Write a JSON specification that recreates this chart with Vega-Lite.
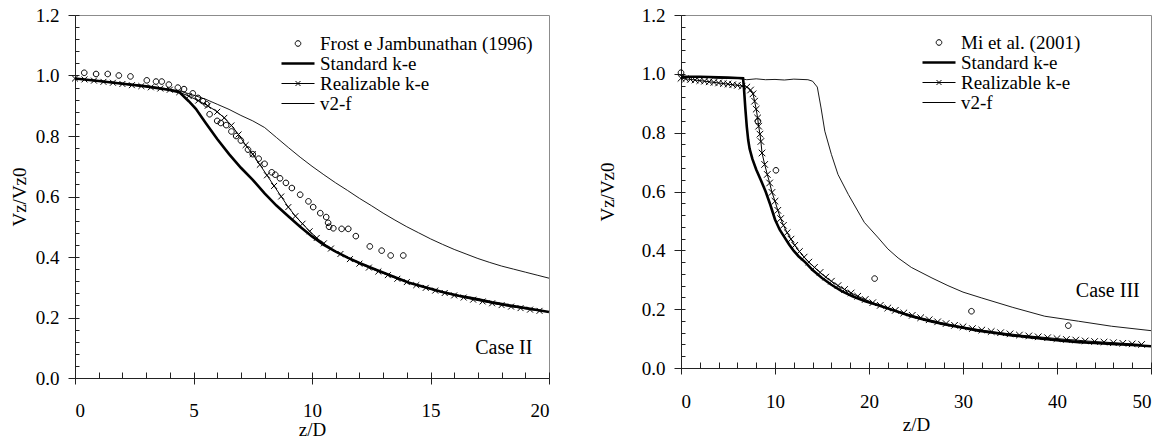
{
  "$schema": "https://vega.github.io/schema/vega-lite/v6.json",
  "background": "white",
  "padding": {"left": 9, "top": 5, "right": 6, "bottom": 0},
  "datasets": {
    "left": [
      {"s": "Standard k-e", "x": 0, "y": 0.99}, {"s": "Standard k-e", "x": 1, "y": 0.982}, {"s": "Standard k-e", "x": 2, "y": 0.973}, {"s": "Standard k-e", "x": 3, "y": 0.964}, {"s": "Standard k-e", "x": 4, "y": 0.952}, {"s": "Standard k-e", "x": 4.4, "y": 0.945}, {"s": "Standard k-e", "x": 4.8, "y": 0.915}, {"s": "Standard k-e", "x": 5.1, "y": 0.89}, {"s": "Standard k-e", "x": 5.5, "y": 0.845}, {"s": "Standard k-e", "x": 6, "y": 0.79}, {"s": "Standard k-e", "x": 6.5, "y": 0.74}, {"s": "Standard k-e", "x": 7, "y": 0.695}, {"s": "Standard k-e", "x": 7.5, "y": 0.655}, {"s": "Standard k-e", "x": 8, "y": 0.61}, {"s": "Standard k-e", "x": 8.5, "y": 0.57}, {"s": "Standard k-e", "x": 9, "y": 0.535}, {"s": "Standard k-e", "x": 9.5, "y": 0.5}, {"s": "Standard k-e", "x": 10, "y": 0.468}, {"s": "Standard k-e", "x": 10.5, "y": 0.44}, {"s": "Standard k-e", "x": 11, "y": 0.418}, {"s": "Standard k-e", "x": 11.5, "y": 0.398}, {"s": "Standard k-e", "x": 12, "y": 0.38}, {"s": "Standard k-e", "x": 12.7, "y": 0.358}, {"s": "Standard k-e", "x": 13.5, "y": 0.333}, {"s": "Standard k-e", "x": 14.1, "y": 0.315}, {"s": "Standard k-e", "x": 15, "y": 0.295}, {"s": "Standard k-e", "x": 15.5, "y": 0.284}, {"s": "Standard k-e", "x": 16.2, "y": 0.272}, {"s": "Standard k-e", "x": 16.9, "y": 0.262}, {"s": "Standard k-e", "x": 17.6, "y": 0.25}, {"s": "Standard k-e", "x": 18.3, "y": 0.24}, {"s": "Standard k-e", "x": 19.2, "y": 0.229}, {"s": "Standard k-e", "x": 20, "y": 0.218},
      {"s": "Realizable k-e", "x": 0, "y": 0.99}, {"s": "Realizable k-e", "x": 0.4, "y": 0.987}, {"s": "Realizable k-e", "x": 0.8, "y": 0.983}, {"s": "Realizable k-e", "x": 1.2, "y": 0.979}, {"s": "Realizable k-e", "x": 1.6, "y": 0.976}, {"s": "Realizable k-e", "x": 2.0, "y": 0.972}, {"s": "Realizable k-e", "x": 2.4, "y": 0.968}, {"s": "Realizable k-e", "x": 2.8, "y": 0.965}, {"s": "Realizable k-e", "x": 3.2, "y": 0.961}, {"s": "Realizable k-e", "x": 3.6, "y": 0.957}, {"s": "Realizable k-e", "x": 4.0, "y": 0.953}, {"s": "Realizable k-e", "x": 4.4, "y": 0.945}, {"s": "Realizable k-e", "x": 4.8, "y": 0.932}, {"s": "Realizable k-e", "x": 5.2, "y": 0.917}, {"s": "Realizable k-e", "x": 5.6, "y": 0.9}, {"s": "Realizable k-e", "x": 6.0, "y": 0.88}, {"s": "Realizable k-e", "x": 6.3, "y": 0.86}, {"s": "Realizable k-e", "x": 6.6, "y": 0.835}, {"s": "Realizable k-e", "x": 6.9, "y": 0.805}, {"s": "Realizable k-e", "x": 7.2, "y": 0.77}, {"s": "Realizable k-e", "x": 7.5, "y": 0.74}, {"s": "Realizable k-e", "x": 7.8, "y": 0.705}, {"s": "Realizable k-e", "x": 8.1, "y": 0.67}, {"s": "Realizable k-e", "x": 8.4, "y": 0.635}, {"s": "Realizable k-e", "x": 8.7, "y": 0.6}, {"s": "Realizable k-e", "x": 9.0, "y": 0.565}, {"s": "Realizable k-e", "x": 9.3, "y": 0.535}, {"s": "Realizable k-e", "x": 9.6, "y": 0.51}, {"s": "Realizable k-e", "x": 9.9, "y": 0.485}, {"s": "Realizable k-e", "x": 10.2, "y": 0.463}, {"s": "Realizable k-e", "x": 10.5, "y": 0.445}, {"s": "Realizable k-e", "x": 10.8, "y": 0.428}, {"s": "Realizable k-e", "x": 11.2, "y": 0.41}, {"s": "Realizable k-e", "x": 11.6, "y": 0.393}, {"s": "Realizable k-e", "x": 12.0, "y": 0.378}, {"s": "Realizable k-e", "x": 12.4, "y": 0.365}, {"s": "Realizable k-e", "x": 12.8, "y": 0.352}, {"s": "Realizable k-e", "x": 13.2, "y": 0.34}, {"s": "Realizable k-e", "x": 13.6, "y": 0.328}, {"s": "Realizable k-e", "x": 14.0, "y": 0.317}, {"s": "Realizable k-e", "x": 14.4, "y": 0.307}, {"s": "Realizable k-e", "x": 14.8, "y": 0.298}, {"s": "Realizable k-e", "x": 15.2, "y": 0.289}, {"s": "Realizable k-e", "x": 15.6, "y": 0.281}, {"s": "Realizable k-e", "x": 16.0, "y": 0.273}, {"s": "Realizable k-e", "x": 16.4, "y": 0.266}, {"s": "Realizable k-e", "x": 16.8, "y": 0.259}, {"s": "Realizable k-e", "x": 17.2, "y": 0.253}, {"s": "Realizable k-e", "x": 17.6, "y": 0.247}, {"s": "Realizable k-e", "x": 18.0, "y": 0.241}, {"s": "Realizable k-e", "x": 18.4, "y": 0.236}, {"s": "Realizable k-e", "x": 18.8, "y": 0.231}, {"s": "Realizable k-e", "x": 19.2, "y": 0.226}, {"s": "Realizable k-e", "x": 19.6, "y": 0.222},
      {"s": "v2-f", "x": 0, "y": 0.99}, {"s": "v2-f", "x": 1, "y": 0.983}, {"s": "v2-f", "x": 2, "y": 0.975}, {"s": "v2-f", "x": 3, "y": 0.966}, {"s": "v2-f", "x": 4, "y": 0.955}, {"s": "v2-f", "x": 4.5, "y": 0.947}, {"s": "v2-f", "x": 5, "y": 0.935}, {"s": "v2-f", "x": 5.5, "y": 0.922}, {"s": "v2-f", "x": 6, "y": 0.905}, {"s": "v2-f", "x": 6.5, "y": 0.888}, {"s": "v2-f", "x": 7, "y": 0.868}, {"s": "v2-f", "x": 7.5, "y": 0.85}, {"s": "v2-f", "x": 8, "y": 0.828}, {"s": "v2-f", "x": 8.5, "y": 0.795}, {"s": "v2-f", "x": 9, "y": 0.762}, {"s": "v2-f", "x": 9.5, "y": 0.73}, {"s": "v2-f", "x": 10, "y": 0.7}, {"s": "v2-f", "x": 10.5, "y": 0.672}, {"s": "v2-f", "x": 11, "y": 0.645}, {"s": "v2-f", "x": 11.5, "y": 0.62}, {"s": "v2-f", "x": 12, "y": 0.594}, {"s": "v2-f", "x": 12.5, "y": 0.57}, {"s": "v2-f", "x": 13, "y": 0.545}, {"s": "v2-f", "x": 13.5, "y": 0.522}, {"s": "v2-f", "x": 14, "y": 0.5}, {"s": "v2-f", "x": 14.5, "y": 0.48}, {"s": "v2-f", "x": 15, "y": 0.46}, {"s": "v2-f", "x": 15.5, "y": 0.442}, {"s": "v2-f", "x": 16, "y": 0.425}, {"s": "v2-f", "x": 16.5, "y": 0.41}, {"s": "v2-f", "x": 17, "y": 0.395}, {"s": "v2-f", "x": 17.5, "y": 0.382}, {"s": "v2-f", "x": 18, "y": 0.37}, {"s": "v2-f", "x": 18.5, "y": 0.36}, {"s": "v2-f", "x": 19, "y": 0.35}, {"s": "v2-f", "x": 19.5, "y": 0.34}, {"s": "v2-f", "x": 20, "y": 0.33},
      {"s": "Frost e Jambunathan (1996)", "x": 0.39, "y": 1.009}, {"s": "Frost e Jambunathan (1996)", "x": 0.89, "y": 1.005}, {"s": "Frost e Jambunathan (1996)", "x": 1.38, "y": 1.005}, {"s": "Frost e Jambunathan (1996)", "x": 1.85, "y": 1.0}, {"s": "Frost e Jambunathan (1996)", "x": 2.34, "y": 0.997}, {"s": "Frost e Jambunathan (1996)", "x": 3.03, "y": 0.984}, {"s": "Frost e Jambunathan (1996)", "x": 3.42, "y": 0.98}, {"s": "Frost e Jambunathan (1996)", "x": 3.66, "y": 0.98}, {"s": "Frost e Jambunathan (1996)", "x": 3.96, "y": 0.97}, {"s": "Frost e Jambunathan (1996)", "x": 4.34, "y": 0.96}, {"s": "Frost e Jambunathan (1996)", "x": 4.6, "y": 0.955}, {"s": "Frost e Jambunathan (1996)", "x": 4.97, "y": 0.941}, {"s": "Frost e Jambunathan (1996)", "x": 5.19, "y": 0.926}, {"s": "Frost e Jambunathan (1996)", "x": 5.4, "y": 0.915}, {"s": "Frost e Jambunathan (1996)", "x": 5.55, "y": 0.905}, {"s": "Frost e Jambunathan (1996)", "x": 5.68, "y": 0.872}, {"s": "Frost e Jambunathan (1996)", "x": 6.0, "y": 0.85}, {"s": "Frost e Jambunathan (1996)", "x": 6.15, "y": 0.843}, {"s": "Frost e Jambunathan (1996)", "x": 6.38, "y": 0.836}, {"s": "Frost e Jambunathan (1996)", "x": 6.6, "y": 0.815}, {"s": "Frost e Jambunathan (1996)", "x": 6.8, "y": 0.8}, {"s": "Frost e Jambunathan (1996)", "x": 7.0, "y": 0.785}, {"s": "Frost e Jambunathan (1996)", "x": 7.3, "y": 0.755}, {"s": "Frost e Jambunathan (1996)", "x": 7.5, "y": 0.74}, {"s": "Frost e Jambunathan (1996)", "x": 7.75, "y": 0.725}, {"s": "Frost e Jambunathan (1996)", "x": 8.0, "y": 0.708}, {"s": "Frost e Jambunathan (1996)", "x": 8.3, "y": 0.68}, {"s": "Frost e Jambunathan (1996)", "x": 8.45, "y": 0.672}, {"s": "Frost e Jambunathan (1996)", "x": 8.65, "y": 0.66}, {"s": "Frost e Jambunathan (1996)", "x": 8.9, "y": 0.645}, {"s": "Frost e Jambunathan (1996)", "x": 9.15, "y": 0.628}, {"s": "Frost e Jambunathan (1996)", "x": 9.5, "y": 0.606}, {"s": "Frost e Jambunathan (1996)", "x": 9.85, "y": 0.584}, {"s": "Frost e Jambunathan (1996)", "x": 10.05, "y": 0.565}, {"s": "Frost e Jambunathan (1996)", "x": 10.35, "y": 0.545}, {"s": "Frost e Jambunathan (1996)", "x": 10.6, "y": 0.532}, {"s": "Frost e Jambunathan (1996)", "x": 10.68, "y": 0.513}, {"s": "Frost e Jambunathan (1996)", "x": 10.72, "y": 0.5}, {"s": "Frost e Jambunathan (1996)", "x": 10.9, "y": 0.495}, {"s": "Frost e Jambunathan (1996)", "x": 11.25, "y": 0.493}, {"s": "Frost e Jambunathan (1996)", "x": 11.53, "y": 0.493}, {"s": "Frost e Jambunathan (1996)", "x": 11.85, "y": 0.469}, {"s": "Frost e Jambunathan (1996)", "x": 12.44, "y": 0.435}, {"s": "Frost e Jambunathan (1996)", "x": 12.94, "y": 0.421}, {"s": "Frost e Jambunathan (1996)", "x": 13.32, "y": 0.405}, {"s": "Frost e Jambunathan (1996)", "x": 13.85, "y": 0.405}
    ],
    "right": [
      {"s": "Standard k-e", "x": 0, "y": 0.99}, {"s": "Standard k-e", "x": 1, "y": 0.99}, {"s": "Standard k-e", "x": 2, "y": 0.99}, {"s": "Standard k-e", "x": 3, "y": 0.989}, {"s": "Standard k-e", "x": 4, "y": 0.988}, {"s": "Standard k-e", "x": 5, "y": 0.987}, {"s": "Standard k-e", "x": 6, "y": 0.986}, {"s": "Standard k-e", "x": 6.6, "y": 0.985}, {"s": "Standard k-e", "x": 6.7, "y": 0.95}, {"s": "Standard k-e", "x": 6.85, "y": 0.88}, {"s": "Standard k-e", "x": 7.0, "y": 0.82}, {"s": "Standard k-e", "x": 7.15, "y": 0.775}, {"s": "Standard k-e", "x": 7.3, "y": 0.745}, {"s": "Standard k-e", "x": 7.6, "y": 0.71}, {"s": "Standard k-e", "x": 8, "y": 0.675}, {"s": "Standard k-e", "x": 8.5, "y": 0.638}, {"s": "Standard k-e", "x": 9, "y": 0.6}, {"s": "Standard k-e", "x": 9.5, "y": 0.555}, {"s": "Standard k-e", "x": 10, "y": 0.505}, {"s": "Standard k-e", "x": 10.5, "y": 0.47}, {"s": "Standard k-e", "x": 11, "y": 0.445}, {"s": "Standard k-e", "x": 11.5, "y": 0.42}, {"s": "Standard k-e", "x": 12, "y": 0.398}, {"s": "Standard k-e", "x": 12.5, "y": 0.38}, {"s": "Standard k-e", "x": 13.2, "y": 0.36}, {"s": "Standard k-e", "x": 14, "y": 0.333}, {"s": "Standard k-e", "x": 15, "y": 0.306}, {"s": "Standard k-e", "x": 16, "y": 0.283}, {"s": "Standard k-e", "x": 17.1, "y": 0.261}, {"s": "Standard k-e", "x": 18.3, "y": 0.243}, {"s": "Standard k-e", "x": 19.6, "y": 0.227}, {"s": "Standard k-e", "x": 21, "y": 0.213}, {"s": "Standard k-e", "x": 22.5, "y": 0.197}, {"s": "Standard k-e", "x": 24.5, "y": 0.176}, {"s": "Standard k-e", "x": 26.3, "y": 0.161}, {"s": "Standard k-e", "x": 28.1, "y": 0.148}, {"s": "Standard k-e", "x": 30, "y": 0.137}, {"s": "Standard k-e", "x": 31.6, "y": 0.127}, {"s": "Standard k-e", "x": 33.4, "y": 0.119}, {"s": "Standard k-e", "x": 35.2, "y": 0.111}, {"s": "Standard k-e", "x": 37, "y": 0.105}, {"s": "Standard k-e", "x": 38.7, "y": 0.099}, {"s": "Standard k-e", "x": 40.5, "y": 0.093}, {"s": "Standard k-e", "x": 42.3, "y": 0.088}, {"s": "Standard k-e", "x": 44, "y": 0.085}, {"s": "Standard k-e", "x": 45.8, "y": 0.082}, {"s": "Standard k-e", "x": 48, "y": 0.078}, {"s": "Standard k-e", "x": 50, "y": 0.074},
      {"s": "Realizable k-e", "x": 0, "y": 0.985}, {"s": "Realizable k-e", "x": 0.5, "y": 0.983}, {"s": "Realizable k-e", "x": 1, "y": 0.981}, {"s": "Realizable k-e", "x": 1.5, "y": 0.979}, {"s": "Realizable k-e", "x": 2, "y": 0.977}, {"s": "Realizable k-e", "x": 2.5, "y": 0.975}, {"s": "Realizable k-e", "x": 3, "y": 0.973}, {"s": "Realizable k-e", "x": 3.5, "y": 0.971}, {"s": "Realizable k-e", "x": 4, "y": 0.969}, {"s": "Realizable k-e", "x": 4.5, "y": 0.967}, {"s": "Realizable k-e", "x": 5, "y": 0.965}, {"s": "Realizable k-e", "x": 5.5, "y": 0.963}, {"s": "Realizable k-e", "x": 6, "y": 0.961}, {"s": "Realizable k-e", "x": 6.5, "y": 0.958}, {"s": "Realizable k-e", "x": 7, "y": 0.955}, {"s": "Realizable k-e", "x": 7.4, "y": 0.945}, {"s": "Realizable k-e", "x": 7.66, "y": 0.932}, {"s": "Realizable k-e", "x": 7.83, "y": 0.907}, {"s": "Realizable k-e", "x": 8.0, "y": 0.88}, {"s": "Realizable k-e", "x": 8.15, "y": 0.85}, {"s": "Realizable k-e", "x": 8.26, "y": 0.822}, {"s": "Realizable k-e", "x": 8.4, "y": 0.795}, {"s": "Realizable k-e", "x": 8.5, "y": 0.77}, {"s": "Realizable k-e", "x": 8.62, "y": 0.731}, {"s": "Realizable k-e", "x": 8.9, "y": 0.692}, {"s": "Realizable k-e", "x": 9.18, "y": 0.658}, {"s": "Realizable k-e", "x": 9.43, "y": 0.629}, {"s": "Realizable k-e", "x": 9.68, "y": 0.597}, {"s": "Realizable k-e", "x": 10.0, "y": 0.567}, {"s": "Realizable k-e", "x": 10.3, "y": 0.536}, {"s": "Realizable k-e", "x": 10.6, "y": 0.508}, {"s": "Realizable k-e", "x": 10.9, "y": 0.485}, {"s": "Realizable k-e", "x": 11.3, "y": 0.46}, {"s": "Realizable k-e", "x": 11.7, "y": 0.438}, {"s": "Realizable k-e", "x": 12.1, "y": 0.417}, {"s": "Realizable k-e", "x": 12.6, "y": 0.396}, {"s": "Realizable k-e", "x": 13.1, "y": 0.377}, {"s": "Realizable k-e", "x": 13.6, "y": 0.36}, {"s": "Realizable k-e", "x": 14.2, "y": 0.342}, {"s": "Realizable k-e", "x": 14.8, "y": 0.325}, {"s": "Realizable k-e", "x": 15.4, "y": 0.309}, {"s": "Realizable k-e", "x": 16, "y": 0.295}, {"s": "Realizable k-e", "x": 16.7, "y": 0.28}, {"s": "Realizable k-e", "x": 17.4, "y": 0.267}, {"s": "Realizable k-e", "x": 18.1, "y": 0.255}, {"s": "Realizable k-e", "x": 18.8, "y": 0.244}, {"s": "Realizable k-e", "x": 19.6, "y": 0.233}, {"s": "Realizable k-e", "x": 20.4, "y": 0.222}, {"s": "Realizable k-e", "x": 21.2, "y": 0.213}, {"s": "Realizable k-e", "x": 22, "y": 0.204}, {"s": "Realizable k-e", "x": 22.8, "y": 0.196}, {"s": "Realizable k-e", "x": 23.7, "y": 0.187}, {"s": "Realizable k-e", "x": 24.6, "y": 0.179}, {"s": "Realizable k-e", "x": 25.5, "y": 0.171}, {"s": "Realizable k-e", "x": 26.4, "y": 0.164}, {"s": "Realizable k-e", "x": 27.3, "y": 0.157}, {"s": "Realizable k-e", "x": 28.2, "y": 0.151}, {"s": "Realizable k-e", "x": 29.1, "y": 0.145}, {"s": "Realizable k-e", "x": 30, "y": 0.14}, {"s": "Realizable k-e", "x": 31, "y": 0.134}, {"s": "Realizable k-e", "x": 32, "y": 0.129}, {"s": "Realizable k-e", "x": 33, "y": 0.124}, {"s": "Realizable k-e", "x": 34, "y": 0.12}, {"s": "Realizable k-e", "x": 35, "y": 0.116}, {"s": "Realizable k-e", "x": 36, "y": 0.112}, {"s": "Realizable k-e", "x": 37, "y": 0.109}, {"s": "Realizable k-e", "x": 38, "y": 0.106}, {"s": "Realizable k-e", "x": 39, "y": 0.103}, {"s": "Realizable k-e", "x": 40, "y": 0.1}, {"s": "Realizable k-e", "x": 41, "y": 0.097}, {"s": "Realizable k-e", "x": 42, "y": 0.095}, {"s": "Realizable k-e", "x": 43, "y": 0.092}, {"s": "Realizable k-e", "x": 44, "y": 0.09}, {"s": "Realizable k-e", "x": 45, "y": 0.088}, {"s": "Realizable k-e", "x": 46, "y": 0.086}, {"s": "Realizable k-e", "x": 47, "y": 0.084}, {"s": "Realizable k-e", "x": 48, "y": 0.082}, {"s": "Realizable k-e", "x": 49, "y": 0.08},
      {"s": "v2-f", "x": 0, "y": 0.99}, {"s": "v2-f", "x": 2, "y": 0.99}, {"s": "v2-f", "x": 4, "y": 0.985}, {"s": "v2-f", "x": 6, "y": 0.985}, {"s": "v2-f", "x": 7, "y": 0.98}, {"s": "v2-f", "x": 8, "y": 0.983}, {"s": "v2-f", "x": 9, "y": 0.98}, {"s": "v2-f", "x": 10, "y": 0.981}, {"s": "v2-f", "x": 11, "y": 0.979}, {"s": "v2-f", "x": 12, "y": 0.982}, {"s": "v2-f", "x": 13.5, "y": 0.98}, {"s": "v2-f", "x": 14, "y": 0.975}, {"s": "v2-f", "x": 14.5, "y": 0.955}, {"s": "v2-f", "x": 14.9, "y": 0.884}, {"s": "v2-f", "x": 15.3, "y": 0.805}, {"s": "v2-f", "x": 16, "y": 0.726}, {"s": "v2-f", "x": 16.7, "y": 0.658}, {"s": "v2-f", "x": 17.8, "y": 0.59}, {"s": "v2-f", "x": 19.5, "y": 0.495}, {"s": "v2-f", "x": 21, "y": 0.442}, {"s": "v2-f", "x": 22, "y": 0.405}, {"s": "v2-f", "x": 23.1, "y": 0.374}, {"s": "v2-f", "x": 24.5, "y": 0.342}, {"s": "v2-f", "x": 26.7, "y": 0.306}, {"s": "v2-f", "x": 28.4, "y": 0.28}, {"s": "v2-f", "x": 30, "y": 0.258}, {"s": "v2-f", "x": 32, "y": 0.238}, {"s": "v2-f", "x": 35.3, "y": 0.206}, {"s": "v2-f", "x": 38.7, "y": 0.176}, {"s": "v2-f", "x": 42.3, "y": 0.159}, {"s": "v2-f", "x": 45.8, "y": 0.142}, {"s": "v2-f", "x": 50, "y": 0.127},
      {"s": "Mi et al. (2001)", "x": 0, "y": 1.004}, {"s": "Mi et al. (2001)", "x": 8.19, "y": 0.839}, {"s": "Mi et al. (2001)", "x": 10.1, "y": 0.672}, {"s": "Mi et al. (2001)", "x": 20.6, "y": 0.304}, {"s": "Mi et al. (2001)", "x": 30.9, "y": 0.193}, {"s": "Mi et al. (2001)", "x": 41.2, "y": 0.144}
    ]
  },
  "spacing": 42,
  "resolve": {"scale": {"shape": "independent", "strokeWidth": "independent"}, "legend": {"shape": "independent", "strokeWidth": "independent"}},
  "hconcat": [
    {
      "width": 474,
      "height": 363,
      "data": {"name": "left"},
      "resolve": {"axis": {"x": "independent", "y": "independent"}},
      "layer": [
        {
          "transform": [{"filter": "datum.s === 'Standard k-e'"}],
          "mark": {"type": "line", "color": "black", "strokeWidth": 2.6},
          "encoding": {
            "x": {"field": "x", "type": "quantitative", "scale": {"domain": [0, 20], "nice": false},
              "axis": {"orient": "bottom", "values": [0, 5, 10, 15, 20], "format": "d", "tickSize": 6, "labelPadding": 17, "title": "z/D", "titlePadding": 0}},
            "y": {"field": "y", "type": "quantitative", "scale": {"domain": [0, 1.2], "nice": false},
              "axis": {"orient": "left", "values": [0, 0.2, 0.4, 0.6, 0.8, 1.0, 1.2], "format": ".1f", "tickSize": 7, "labelPadding": 9, "title": "Vz/Vz0", "titlePadding": 6}}
          }
        },
        {
          "transform": [{"filter": "datum.s === 'Realizable k-e'"}],
          "mark": {"type": "line", "color": "black", "strokeWidth": 1},
          "encoding": {
            "x": {"field": "x", "type": "quantitative",
              "axis": {"orient": "bottom", "values": [0,1,2,3,4,5,6,7,8,9,10,11,12,13,14,15,16,17,18,19,20], "tickSize": -6, "labels": false, "domain": false, "title": null}},
            "y": {"field": "y", "type": "quantitative",
              "axis": {"orient": "left", "values": [0,0.04,0.08,0.12,0.16,0.2,0.24,0.28,0.32,0.36,0.4,0.44,0.48,0.52,0.56,0.6,0.64,0.68,0.72,0.76,0.8,0.84,0.88,0.92,0.96,1.0,1.04,1.08,1.12,1.16,1.2], "tickSize": -4, "labels": false, "domain": false, "title": null}}
          }
        },
        {
          "transform": [{"filter": "datum.s === 'v2-f'"}],
          "mark": {"type": "line", "color": "black", "strokeWidth": 0.9},
          "encoding": {
            "x": {"field": "x", "type": "quantitative", "axis": null},
            "y": {"field": "y", "type": "quantitative", "axis": null}
          }
        },
        {
          "transform": [{"filter": "datum.s === 'Realizable k-e'"}],
          "mark": {"type": "point", "shape": "M-0.18,-0.18L0.18,0.18M-0.18,0.18L0.18,-0.18", "size": 1089, "filled": false, "color": "black", "strokeWidth": 1, "opacity": 1},
          "encoding": {
            "x": {"field": "x", "type": "quantitative", "axis": null},
            "y": {"field": "y", "type": "quantitative", "axis": null}
          }
        },
        {
          "transform": [{"filter": "datum.s === 'Frost e Jambunathan (1996)'"}],
          "mark": {"type": "point", "size": 1089, "filled": false, "color": "black", "opacity": 1},
          "encoding": {
            "x": {"field": "x", "type": "quantitative", "axis": null},
            "y": {"field": "y", "type": "quantitative", "axis": null},
            "shape": {"field": "s", "type": "nominal",
              "scale": {"type": "ordinal", "domain": ["Frost e Jambunathan (1996)", "Standard k-e", "Realizable k-e", "v2-f"],
                "range": ["M0.17,0A0.17,0.17,0,1,1,-0.17,0A0.17,0.17,0,1,1,0.17,0Z", "M-1,0H1", "M-1,0H1M-0.15,-0.15L0.15,0.15M-0.15,0.15L0.15,-0.15", "M-1,0H1"]},
              "legend": {"orient": "none", "legendX": 205, "legendY": 19, "title": null, "clipHeight": 19, "symbolSize": 1089, "labelFontSize": 19, "labelFont": "Liberation Serif", "labelColor": "black", "labelLimit": 400, "symbolStrokeColor": "black", "symbolFillColor": "transparent", "rowPadding": 0, "labelOffset": 4, "padding": 0}},
            "strokeWidth": {"field": "s", "type": "nominal",
              "scale": {"type": "ordinal", "domain": ["Frost e Jambunathan (1996)", "Standard k-e", "Realizable k-e", "v2-f"], "range": [1, 2.6, 1, 1]},
              "legend": {"orient": "none", "legendX": 205, "legendY": 19, "title": null, "clipHeight": 19, "symbolSize": 1089, "labelFontSize": 19, "labelFont": "Liberation Serif", "labelColor": "black", "labelLimit": 400, "symbolStrokeColor": "black", "symbolFillColor": "transparent", "rowPadding": 0, "labelOffset": 4, "padding": 0}}
          }
        },
        {
          "data": {"values": [{"label": "Case II", "x": 19.3, "y": 0.099}]},
          "mark": {"type": "text", "align": "right", "baseline": "middle", "fontSize": 20, "font": "Liberation Serif", "color": "black"},
          "encoding": {
            "x": {"field": "x", "type": "quantitative", "axis": null},
            "y": {"field": "y", "type": "quantitative", "axis": null},
            "text": {"field": "label"}
          }
        }
      ]
    },
    {
      "width": 470,
      "height": 353,
      "data": {"name": "right"},
      "resolve": {"axis": {"x": "independent", "y": "independent"}},
      "layer": [
        {
          "transform": [{"filter": "datum.s === 'Standard k-e'"}],
          "mark": {"type": "line", "color": "black", "strokeWidth": 2.6},
          "encoding": {
            "x": {"field": "x", "type": "quantitative", "scale": {"domain": [0, 50], "nice": false},
              "axis": {"orient": "bottom", "values": [0, 10, 20, 30, 40, 50], "format": "d", "tickSize": 6, "labelPadding": 18, "title": "z/D", "titlePadding": 4}},
            "y": {"field": "y", "type": "quantitative", "scale": {"domain": [0, 1.2], "nice": false},
              "axis": {"orient": "left", "values": [0, 0.2, 0.4, 0.6, 0.8, 1.0, 1.2], "format": ".1f", "tickSize": 7, "labelPadding": 9, "title": "Vz/Vz0", "titlePadding": 24}}
          }
        },
        {
          "transform": [{"filter": "datum.s === 'Realizable k-e'"}],
          "mark": {"type": "line", "color": "black", "strokeWidth": 1},
          "encoding": {
            "x": {"field": "x", "type": "quantitative",
              "axis": {"orient": "bottom", "values": [0,2,4,6,8,10,12,14,16,18,20,22,24,26,28,30,32,34,36,38,40,42,44,46,48,50], "tickSize": -6, "labels": false, "domain": false, "title": null}},
            "y": {"field": "y", "type": "quantitative",
              "axis": {"orient": "left", "values": [0,0.04,0.08,0.12,0.16,0.2,0.24,0.28,0.32,0.36,0.4,0.44,0.48,0.52,0.56,0.6,0.64,0.68,0.72,0.76,0.8,0.84,0.88,0.92,0.96,1.0,1.04,1.08,1.12,1.16,1.2], "tickSize": -4, "labels": false, "domain": false, "title": null}}
          }
        },
        {
          "transform": [{"filter": "datum.s === 'v2-f'"}],
          "mark": {"type": "line", "color": "black", "strokeWidth": 0.9},
          "encoding": {
            "x": {"field": "x", "type": "quantitative", "axis": null},
            "y": {"field": "y", "type": "quantitative", "axis": null}
          }
        },
        {
          "transform": [{"filter": "datum.s === 'Realizable k-e'"}],
          "mark": {"type": "point", "shape": "M-0.2,-0.2L0.2,0.2M-0.2,0.2L0.2,-0.2", "size": 1089, "filled": false, "color": "black", "strokeWidth": 1, "opacity": 1},
          "encoding": {
            "x": {"field": "x", "type": "quantitative", "axis": null},
            "y": {"field": "y", "type": "quantitative", "axis": null}
          }
        },
        {
          "transform": [{"filter": "datum.s === 'Mi et al. (2001)'"}],
          "mark": {"type": "point", "size": 1089, "filled": false, "color": "black", "opacity": 1},
          "encoding": {
            "x": {"field": "x", "type": "quantitative", "axis": null},
            "y": {"field": "y", "type": "quantitative", "axis": null},
            "shape": {"field": "s", "type": "nominal",
              "scale": {"type": "ordinal", "domain": ["Mi et al. (2001)", "Standard k-e", "Realizable k-e", "v2-f"],
                "range": ["M0.17,0A0.17,0.17,0,1,1,-0.17,0A0.17,0.17,0,1,1,0.17,0Z", "M-1,0H1", "M-1,0H1M-0.15,-0.15L0.15,0.15M-0.15,0.15L0.15,-0.15", "M-1,0H1"]},
              "legend": {"orient": "none", "legendX": 240, "legendY": 18, "title": null, "clipHeight": 19, "symbolSize": 1089, "labelFontSize": 19, "labelFont": "Liberation Serif", "labelColor": "black", "labelLimit": 400, "symbolStrokeColor": "black", "symbolFillColor": "transparent", "rowPadding": 0, "labelOffset": 4, "padding": 0}},
            "strokeWidth": {"field": "s", "type": "nominal",
              "scale": {"type": "ordinal", "domain": ["Mi et al. (2001)", "Standard k-e", "Realizable k-e", "v2-f"], "range": [1, 2.6, 1, 1]},
              "legend": {"orient": "none", "legendX": 240, "legendY": 18, "title": null, "clipHeight": 19, "symbolSize": 1089, "labelFontSize": 19, "labelFont": "Liberation Serif", "labelColor": "black", "labelLimit": 400, "symbolStrokeColor": "black", "symbolFillColor": "transparent", "rowPadding": 0, "labelOffset": 4, "padding": 0}}
          }
        },
        {
          "data": {"values": [{"label": "Case III", "x": 48.8, "y": 0.262}]},
          "mark": {"type": "text", "align": "right", "baseline": "middle", "fontSize": 20, "font": "Liberation Serif", "color": "black"},
          "encoding": {
            "x": {"field": "x", "type": "quantitative", "axis": null},
            "y": {"field": "y", "type": "quantitative", "axis": null},
            "text": {"field": "label"}
          }
        }
      ]
    }
  ],
  "config": {
    "font": "Liberation Serif",
    "view": {"stroke": "#8c8c8c", "strokeWidth": 1},
    "axis": {"labelFont": "Liberation Serif", "labelFontSize": 19, "labelColor": "black", "titleFont": "Liberation Serif", "titleFontSize": 19, "titleFontWeight": "normal", "titleColor": "black", "domainColor": "#222222", "domainWidth": 1, "tickColor": "#222222", "tickWidth": 1, "grid": false},
    "title": {"font": "Liberation Serif"}
  }
}
